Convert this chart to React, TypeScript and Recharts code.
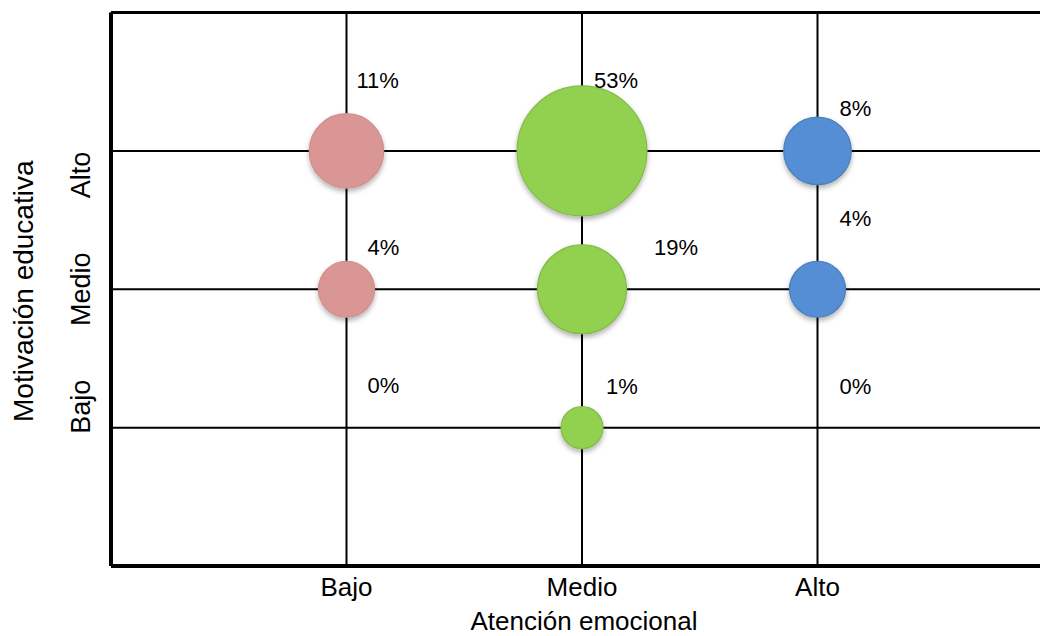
import { ScatterChart, Scatter, XAxis, YAxis, CartesianGrid, ReferenceLine } from 'recharts';

// niveles (eje X: atención emocional, eje Y: motivación educativa)
const levels = ['Bajo', 'Medio', 'Alto'];
const levelValues = [1, 2, 3];

// porcentaje por nivel de motivación (Bajo, Medio, Alto) para cada nivel de atención
const atencionBajo = [0, 4, 11];
const atencionMedio = [1, 19, 53];
const atencionAlto = [0, 4, 8];

// ajustes de posición de las etiquetas de datos (dx, dy desde el centro de la burbuja)
const labelNudges = [
  [[21, -35], [21, -34], [10, -63]],
  [[24, -34], [72, -34], [12, -63]],
  [[22, -34], [22, -63], [22, -35]],
];
// desplazamiento vertical de las etiquetas del eje Y
const yTickNudge = [-21, 0, 24];

const FONT = '"Liberation Sans", Arial, sans-serif';

const toPoints = (x: number, values: number[]) =>
  values.map((pct, i) => ({ x, y: levelValues[i], pct }));

const series = [
  { name: 'Bajo', data: toPoints(1, atencionBajo), fill: '#d99694', stroke: '#d08c8a' },
  { name: 'Medio', data: toPoints(2, atencionMedio), fill: '#92d050', stroke: '#83bb48' },
  { name: 'Alto', data: toPoints(3, atencionAlto), fill: '#558ed5', stroke: '#4a7ebb' },
];

const bubbleRadius = (pct: number) => (pct > 0 ? 14 + 7 * Math.sqrt(pct) : 0);

const makeBubble = (s: number, fill: string, stroke: string) => (props: any) => {
  const { cx, cy, payload, index } = props;
  const r = bubbleRadius(payload.pct);
  const [dx, dy] = labelNudges[s][index ?? levelValues.indexOf(payload.y)];
  return (
    <g>
      {r > 0 && (
        <circle
          cx={cx}
          cy={cy}
          r={r}
          fill={fill}
          stroke={stroke}
          strokeWidth={1.2}
          filter="url(#bubbleShadow)"
        />
      )}
      <text x={cx + dx} y={cy + dy} fontSize={22} fontFamily={FONT} fill="#000" textAnchor="start">
        {payload.pct}%
      </text>
    </g>
  );
};

const XTick = (props: any) => {
  const { x, y, payload } = props;
  return (
    <text x={x} y={y + 30} textAnchor="middle" fontSize={26} fontFamily={FONT} fill="#000">
      {levels[levelValues.indexOf(payload.value)]}
    </text>
  );
};

const YTick = (props: any) => {
  const { x, y, payload } = props;
  const i = levelValues.indexOf(payload.value);
  const px = x - 21;
  const py = y + yTickNudge[i];
  return (
    <text
      x={px}
      y={py}
      transform={`rotate(-90, ${px}, ${py})`}
      textAnchor="middle"
      fontSize={27}
      fontFamily={FONT}
      fill="#000"
    >
      {levels[i]}
    </text>
  );
};

export default function App() {
  return (
    <div
      style={{
        position: 'absolute',
        left: 0,
        top: 0,
        width: 1040,
        height: 636,
        overflow: 'hidden',
        background: '#fff',
      }}
    >
      <ScatterChart width={1065} height={636} margin={{ top: 12.5, right: 12, bottom: 0, left: 11 }}>
        <defs>
          <filter id="bubbleShadow" x="-30%" y="-30%" width="160%" height="170%">
            <feDropShadow dx="0" dy="3" stdDeviation="2.5" floodColor="#000" floodOpacity="0.3" />
          </filter>
        </defs>
        <CartesianGrid stroke="#000" strokeWidth={2} />
        <XAxis
          type="number"
          dataKey="x"
          domain={[0, 4]}
          ticks={levelValues}
          interval={0}
          height={70}
          tickSize={0}
          tickMargin={0}
          tickLine={false}
          axisLine={{ stroke: '#000', strokeWidth: 4 }}
          tick={<XTick />}
          label={{
            content: (p: any) => (
              <text
                x={p.viewBox.x + p.viewBox.width / 2 + 2}
                y={p.viewBox.y + 64}
                textAnchor="middle"
                fontSize={26}
                fontFamily={FONT}
                fill="#000"
              >
                Atención emocional
              </text>
            ),
          }}
        />
        <YAxis
          type="number"
          dataKey="y"
          domain={[0, 4]}
          ticks={levelValues}
          interval={0}
          width={100}
          tickSize={0}
          tickMargin={0}
          tickLine={false}
          axisLine={{ stroke: '#000', strokeWidth: 4 }}
          tick={<YTick />}
          label={{
            content: (p: any) => {
              const tx = p.viewBox.x + 22;
              const ty = p.viewBox.y + p.viewBox.height / 2 + 2;
              return (
                <text
                  x={tx}
                  y={ty}
                  transform={`rotate(-90, ${tx}, ${ty})`}
                  textAnchor="middle"
                  fontSize={28}
                  fontFamily={FONT}
                  fill="#000"
                >
                  Motivación educativa
                </text>
              );
            },
          }}
        />
        <ReferenceLine y={4} stroke="#000" strokeWidth={3} />
        {series.map((s, i) => (
          <Scatter
            key={s.name}
            name={s.name}
            data={s.data}
            fill={s.fill}
            isAnimationActive={false}
            shape={makeBubble(i, s.fill, s.stroke)}
          />
        ))}
      </ScatterChart>
    </div>
  );
}
